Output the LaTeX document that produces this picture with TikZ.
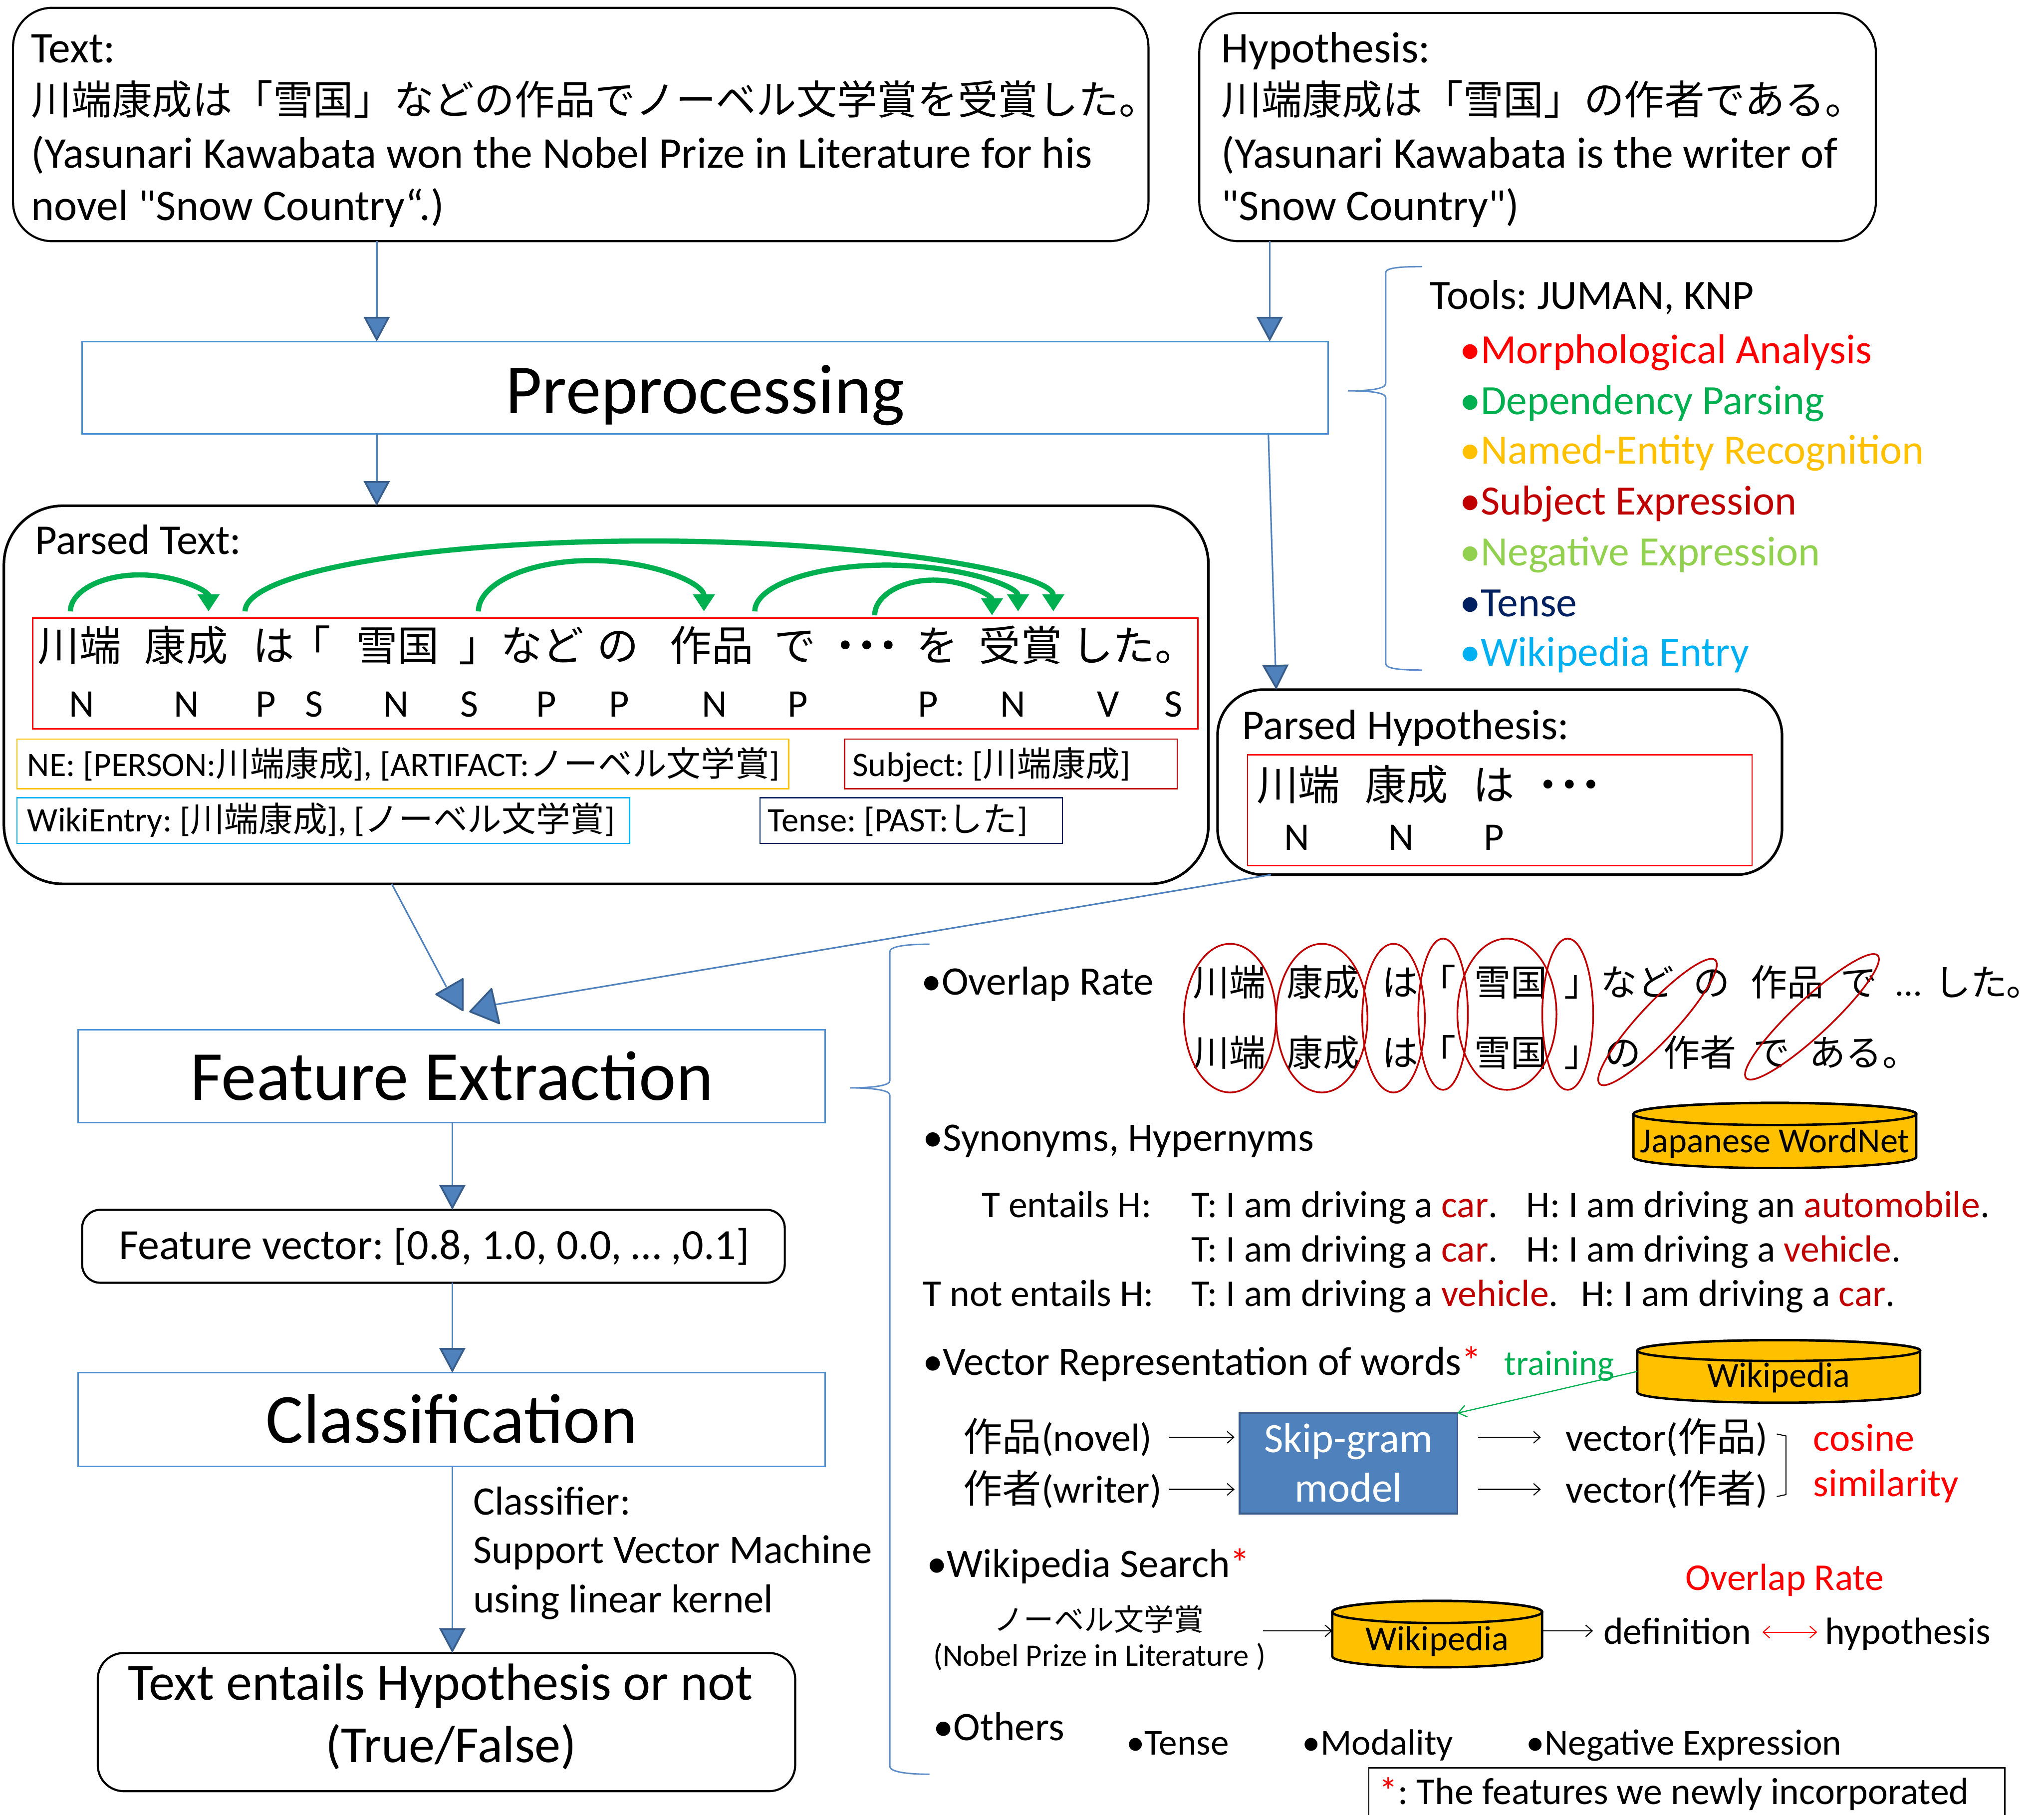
\documentclass[tikz,border=0pt]{standalone}
\usepackage{fontspec}
\setmainfont{Carlito}[Ligatures=TeXOff]
\newfontfamily\jpf{Noto Sans CJK JP}
\newcommand\JP[1]{{\jpf #1}}
\newcommand\fs[1]{\fontsize{#1}{#1}\selectfont}
\newcommand\tdots{\JP{・\kern-15.5pt・\kern-15.5pt・}}
\frenchspacing
\usetikzlibrary{arrows.meta,calc}
\definecolor{arrowblue}{HTML}{4F81BD}
\definecolor{tipblue}{HTML}{385D8A}
\definecolor{boxblue}{HTML}{4A90D9}
\definecolor{braceblue}{HTML}{5B8CC8}
\definecolor{cDred}{HTML}{C00000}
\definecolor{cRed}{HTML}{FF0000}
\definecolor{cGreen}{HTML}{00B050}
\definecolor{cOrange}{HTML}{FFC000}
\definecolor{cLgreen}{HTML}{92D050}
\definecolor{cNavy}{HTML}{002060}
\definecolor{cSky}{HTML}{00B0F0}
\definecolor{cylfill}{HTML}{FFC000}
\tikzset{
  txt/.style={anchor=base west},
  ctxt/.style={anchor=base},
  rbox/.style={draw=black, line width=1.6pt, rounded corners=#1},
  bbox/.style={draw=boxblue, line width=1.2pt},
  thinbox/.style={draw=#1, line width=1pt},
  barrow/.style={draw=arrowblue, line width=1.2pt,
    -{Triangle[length=19pt,width=20pt,fill=arrowblue,color=tipblue,line width=1.4pt]}},
  tipshape/.style={fill=arrowblue, draw=tipblue, line width=1.4pt, line join=round},
  garc/.style={draw=cGreen, line width=4pt, -{Triangle[length=13pt,width=16pt]}},
  oval/.style={draw=cDred, line width=1.3pt},
  sarrow/.style={draw=black, line width=0.8pt, -{Straight Barb[length=5pt,width=9pt]}},
  bracestyle/.style={draw=braceblue, line width=1.1pt},
  cylstyle/.style={fill=cylfill, draw=black, line width=1.8pt},
}
\newcommand\cyl[5]{%
  \filldraw[cylstyle] (#1,#2+#5) -- (#1,#4-#5)
    arc[start angle=180,end angle=0,x radius={(#3-#1)/2},y radius=#5]
    -- (#3,#2+#5)
    arc[start angle=0,end angle=-180,x radius={(#3-#1)/2},y radius=#5] -- cycle;
  \draw[cylstyle, fill=none] ({(#1+#3)/2},#2+#5) ellipse [x radius={(#3-#1)/2}, y radius=#5];
}
\begin{document}
\begin{tikzpicture}[x=1pt,y=-1pt, every node/.style={inner sep=0pt, outer sep=0pt}]
\useasboundingbox (0,0) rectangle (1568,1392);
\fill[white] (0,0) rectangle (1568,1392);

% helper x positions
\coordinate (c289) at (289,0);
\coordinate (c974) at (974,0);
\coordinate (c973) at (973,0);
\coordinate (c979) at (979,0);
\coordinate (c300) at (300.5,0);
\coordinate (c975) at (975,0);
\coordinate (c347) at (347,0);

% ---------- top boxes
\node[rbox=30pt, minimum width=871pt, minimum height=179pt] (textbox) at (445.5,95.5) {};
\node[txt] (tl1) at (24,48) {\fs{33.6}Text:};
\node[txt] (tl2) at (24,88) {\fs{30.9}\JP{川端康成は「雪国」などの作品でノーベル文学賞を受賞した。}};
\node[txt] (tl3) at (24,129) {\fs{33.6}(Yasunari Kawabata won the Nobel Prize in Literature for his};
\node[txt] (tl4) at (24,169) {\fs{33.6}novel "Snow Country“.)};

\node[rbox=30pt, minimum width=519pt, minimum height=175pt] (hypbox) at (1179.5,97.5) {};
\node[txt] (hl1) at (937,48) {\fs{33.6}Hypothesis:};
\node[txt] (hl2) at (937,88) {\fs{30.9}\JP{川端康成は「雪国」の作者である。}};
\node[txt] (hl3) at (937,129) {\fs{33.6}(Yasunari Kawabata is the writer of};
\node[txt] (hl4) at (937,169) {\fs{33.6}"Snow Country")};

% ---------- preprocessing
\node[bbox, minimum width=956pt, minimum height=71pt] (prep) at (541,297.5) {};
\node[ctxt] (preplbl) at (541,317) {\fs{54}Preprocessing};

\draw[barrow] (textbox.south -| c289) -- (prep.north -| c289);
\draw[barrow] (hypbox.south -| c974) -- (prep.north -| c974);

% tools brace and list
\draw[bracestyle] (1091,204.5) .. controls (1074,204.5) and (1063,205.5) .. (1063,209)
  -- (1063,294) .. controls (1063,298.5) and (1050,299.8) .. (1034,299.8)
  .. controls (1050,299.8) and (1063,301) .. (1063,305)
  -- (1063,509) .. controls (1063,513) and (1074,514) .. (1091,514);
\node[txt] (tools) at (1097,237) {\fs{32}Tools: JUMAN, KNP};
\node[txt, text=cRed] (t1) at (1120,279) {\fs{32}•Morphological Analysis};
\node[txt, text=cGreen] (t2) at (1120,318) {\fs{32}•Dependency Parsing};
\node[txt, text=cOrange] (t3) at (1120,356) {\fs{32}•Named-Entity Recognition};
\node[txt, text=cDred] (t4) at (1120,395) {\fs{32}•Subject Expression};
\node[txt, text=cLgreen] (t5) at (1120,434) {\fs{32}•Negative Expression};
\node[txt, text=cNavy] (t6) at (1120,473) {\fs{32}•Tense};
\node[txt, text=cSky] (t7) at (1120,511) {\fs{32}•Wikipedia Entry};

% ---------- parsed text
\node[rbox=45pt, line width=2pt, minimum width=924pt, minimum height=290pt] (ptext) at (465,533) {};
\draw[barrow] (prep.south -| c289) -- (ptext.north -| c289);
\node[txt] (ptlbl) at (27,425) {\fs{32.5}Parsed Text:};
\node[thinbox=cRed, minimum width=894pt, minimum height=85pt] (ptred) at (472,516.5) {};

\foreach \x/\w/\n in {61/川端/p1, 143/康成/p2, 210/は/p3, 238/「/p4, 305/雪国/p5, 368/」/p6, 416/など/p7, 474/の/p8, 546/作品/p9, 610/で/p10, 719/を/p12, 783/受賞/p13}
  \node[ctxt] (\n) at (\x,507) {\fs{32}\JP{\w}};
\node[ctxt] (p11) at (665,507) {\fs{32}\tdots};
\node[txt] (p14) at (822,507) {\fs{32}\JP{した。}};

\foreach \x/\w/\n in {62.6/N/g1, 143/N/g2, 204/P/g3, 241/S/g4, 304/N/g5, 360/S/g6, 419/P/g7, 475/P/g8, 548/N/g9, 612/P/g10, 712/P/g11, 777/N/g12, 850/V/g13, 900/S/g14}
  \node[ctxt] (\n) at (\x,550) {\fs{30}\w};

% dependency arcs
\coordinate (a1s) at (54,469);  \coordinate (a1e) at (160,469);
\coordinate (a2s) at (188,469); \coordinate (a2e) at (808,469);
\coordinate (a3s) at (367,469); \coordinate (a3e) at (540,469);
\coordinate (a4s) at (579,469); \coordinate (a4e) at (781,469);
\coordinate (a5s) at (671,472); \coordinate (a5e) at (761,472);
\draw[garc] (a1s) arc[start angle=180,end angle=360,x radius=53,y radius=28];
\draw[garc] (a2s) arc[start angle=180,end angle=360,x radius=310,y radius=54];
\draw[garc] (a3s) arc[start angle=180,end angle=360,x radius=86.5,y radius=39];
\draw[garc] (a4s) arc[start angle=180,end angle=360,x radius=101,y radius=35.5];
\draw[garc] (a5s) arc[start angle=180,end angle=360,x radius=45,y radius=27];

\node[thinbox=cOrange, minimum width=592pt, minimum height=38pt] (nebox) at (309,586) {};
\node[txt] (ne) at (21,595.5) {\fs{26.3}NE: [PERSON:\JP{川端康成}], [ARTIFACT:\JP{ノーベル文学賞}]};
\node[thinbox=cDred, minimum width=255pt, minimum height=38pt] (subjbox) at (775.5,586) {};
\node[txt] (subj) at (654,595.5) {\fs{26.3}Subject: [\JP{川端康成}]};
\node[thinbox=cSky, minimum width=470pt, minimum height=35pt] (wikibox) at (248,629.5) {};
\node[txt] (wiki) at (21,638) {\fs{26.3}WikiEntry: [\JP{川端康成}], [\JP{ノーベル文学賞}]};
\node[thinbox=cNavy, minimum width=232pt, minimum height=35pt] (tensebox) at (699,629.5) {};
\node[txt] (tense) at (589,638) {\fs{26.3}Tense: [PAST:\JP{した}]};

% ---------- parsed hypothesis
\node[rbox=35pt, line width=2pt, minimum width=433pt, minimum height=142pt] (phyp) at (1150.5,600) {};
\draw[barrow] (prep.south -| c973) -- (phyp.north -| c979);
\node[txt] (phlbl) at (953,567) {\fs{32.5}Parsed Hypothesis:};
\node[thinbox=cRed, minimum width=387pt, minimum height=85pt] (phred) at (1150.5,621.5) {};
\foreach \x/\w/\n in {996/川端/h1, 1079/康成/h2, 1146/は/h3}
  \node[ctxt] (\n) at (\x,614) {\fs{32}\JP{\w}};
\node[ctxt] (h4) at (1204,614) {\fs{32}\tdots};
\foreach \x/\w/\n in {995/N/hg1, 1075/N/hg2, 1146/P/hg3}
  \node[ctxt] (\n) at (\x,652) {\fs{30}\w};

% ---------- left column
\node[bbox, minimum width=573pt, minimum height=71pt] (fe) at (346.5,825.5) {};
\node[ctxt] (felbl) at (346.5,844) {\fs{54}Feature Extraction};

\coordinate (tipA) at (342.4,757);
\coordinate (tipB) at (380,770.6);
\draw[draw=arrowblue, line width=1.2pt] (ptext.south -| c300) -- (tipA);
\draw[draw=arrowblue, line width=1.2pt] (phyp.south -| c975) -- (tipB);
\filldraw[tipshape] (355,751) -- (334.6,762.7) -- (355,775) -- cycle;
\filldraw[tipshape] (377,758.6) -- (360.6,776) -- (383,785) -- cycle;

\node[rbox=14pt, minimum width=539pt, minimum height=56pt] (fv) at (332.5,956) {};
\node[ctxt] (fvlbl) at (333,966) {\fs{33}Feature vector: [0.8, 1.0, 0.0, … ,0.1]};
\draw[barrow] (fe.south -| c347) -- (fv.north -| c347);

\node[bbox, minimum width=573pt, minimum height=72pt] (cls) at (346.5,1089) {};
\node[ctxt] (clslbl) at (346.5,1107) {\fs{54}Classification};
\draw[barrow] (fv.south -| c347) -- (cls.north -| c347);

\node[txt] (cf1) at (363,1162) {\fs{31}Classifier:};
\node[txt] (cf2) at (363,1199) {\fs{31}Support Vector Machine};
\node[txt] (cf3) at (363,1237) {\fs{31}using linear kernel};

\node[rbox=20pt, minimum width=535pt, minimum height=106pt] (final) at (342.5,1321) {};
\node[ctxt] (fin1) at (338,1304) {\fs{40}Text entails Hypothesis or not};
\node[ctxt] (fin2) at (346,1352) {\fs{40}(True/False)};
\draw[barrow] (cls.south -| c347) -- (final.north -| c347);

% ---------- right panel brace
\draw[bracestyle] (713,724.3) .. controls (695,724.3) and (682.6,726) .. (682.6,730)
  -- (682.6,829) .. controls (682.6,833) and (668,834.5) .. (652,834.5)
  .. controls (668,834.5) and (682.6,836) .. (682.6,840)
  -- (682.6,1355) .. controls (682.6,1359) and (695,1361) .. (713,1361);

% Overlap rate
\node[txt] (ov) at (707,763) {\fs{31}•Overlap Rate};
\foreach \x/\w/\n in {943/川端/o1, 1015/康成/o2, 1074/は/o3, 1103/「/o4, 1159/雪国/o5, 1214/」/o6, 1256/など/o7, 1313/の/o8, 1371/作品/o9, 1426/で/o10, 1512/した/o12}
  \node[ctxt] (\n) at (\x,764) {\fs{28}\JP{\w}};
\node[ctxt] (o11) at (1464,764) {\fs{28}…};
\node[txt] (o13) at (1539,764) {\fs{28}\JP{。}};
\foreach \x/\w/\n in {943/川端/q1, 1015/康成/q2, 1074/は/q3, 1103/「/q4, 1159/雪国/q5, 1214/」/q6, 1245/の/q7, 1304/作者/q8, 1359/で/q9}
  \node[ctxt] (\n) at (\x,818) {\fs{28}\JP{\w}};
\node[txt] (q10) at (1388,818) {\fs{28}\JP{ある。}};

\draw[oval] (943.6,781) ellipse [x radius=35.3, y radius=57];
\draw[oval] (1014,781) ellipse [x radius=35, y radius=57];
\draw[oval] (1069,781) ellipse [x radius=24, y radius=57];
\draw[oval] (1107,778) ellipse [x radius=19, y radius=58];
\draw[oval] (1156,778) ellipse [x radius=38, y radius=58];
\draw[oval] (1202.6,778) ellipse [x radius=19.5, y radius=58];
\draw[oval, rotate around={47:(1271.5,784)}] (1271.5,784) ellipse [x radius=65, y radius=14];
\draw[oval, rotate around={43:(1390,780)}] (1390,780) ellipse [x radius=69, y radius=14];

% Synonyms
\node[txt] (syn) at (708,883) {\fs{31}•Synonyms, Hypernyms};
\cyl{1253}{846}{1470}{896}{8.5}
\node[minimum width=217pt, minimum height=50pt] (wordnet) at (1361.5,871) {};
\node[ctxt] (wnlbl) at (1361.5,884) {\fs{27}Japanese WordNet};

\node[txt] (te) at (753,934) {\fs{29}T entails H:};
\node[txt] (ex1t) at (914,934) {\fs{29}T: I am driving a \textcolor{cDred}{car}.};
\node[txt] (ex1h) at (1171,934) {\fs{29}H: I am driving an \textcolor{cDred}{automobile}.};
\node[txt] (ex2t) at (914,968) {\fs{29}T: I am driving a \textcolor{cDred}{car}.};
\node[txt] (ex2h) at (1171,968) {\fs{29}H: I am driving a \textcolor{cDred}{vehicle}.};
\node[txt] (tne) at (708,1002) {\fs{29}T not entails H:};
\node[txt] (ex3t) at (914,1002) {\fs{29}T: I am driving a \textcolor{cDred}{vehicle}.};
\node[txt] (ex3h) at (1213,1002) {\fs{29}H: I am driving a \textcolor{cDred}{car}.};

% Vector representation
\node[txt] (vec) at (708,1055) {\fs{31}•Vector Representation of words\textcolor{cRed}{*}};
\cyl{1256}{1028}{1473}{1076}{8}
\node[minimum width=217pt, minimum height=48pt] (wiki1) at (1364.5,1052) {};
\node[ctxt] (wiki1lbl) at (1364.5,1064) {\fs{27}Wikipedia};
\node[fill=arrowblue, draw=tipblue, line width=1.5pt, minimum width=167pt, minimum height=77pt] (skip) at (1034.5,1122.5) {};
\node[ctxt, text=white] (sk1) at (1034.5,1114) {\fs{32}Skip-gram};
\node[ctxt, text=white] (sk2) at (1034.5,1152) {\fs{32}model};
\draw[draw=cGreen, line width=0.9pt, -{Straight Barb[length=6pt,width=9pt]}] (wiki1.west) -- (skip.north east);
\node[txt, text=cGreen] (train) at (1154,1055) {\fs{27}training};

\node[txt] (novel) at (739,1113) {\fs{30}\JP{作品}(novel)};
\node[txt] (writer) at (739,1153) {\fs{30}\JP{作者}(writer)};
\node[txt] (v1) at (1201,1113) {\fs{30}vector(\JP{作品})};
\node[txt] (v2) at (1201,1153) {\fs{30}vector(\JP{作者})};
\draw[sarrow] (skip.west |- novel.east) ++(-54,0) -- ++(50,0);
\draw[sarrow] (skip.west |- writer.east) ++(-54,0) -- ++(50,0);
\draw[sarrow] (skip.east |- v1.west) ++(16,0) -- ++(48,0);
\draw[sarrow] (skip.east |- v2.west) ++(16,0) -- ++(48,0);
\draw[black, line width=0.8pt] (1363,1100) -- (1370,1101.5) -- (1370,1146.5) -- (1363,1148);
\node[txt, text=cRed] (cos1) at (1391,1113) {\fs{30}cosine};
\node[txt, text=cRed] (cos2) at (1391,1148) {\fs{30}similarity};

% Wikipedia search
\node[txt] (ws) at (711,1210) {\fs{31}•Wikipedia Search\textcolor{cRed}{*}};
\node[ctxt] (nobeljp) at (843,1251) {\fs{23}\JP{ノーベル文学賞}};
\node[txt] (nobelen) at (716,1278) {\fs{24}(Nobel Prize in Literature )};
\cyl{1022}{1228}{1183}{1279}{8.5}
\node[minimum width=161pt, minimum height=51pt] (wiki2) at (1102.5,1253.5) {};
\node[ctxt] (wiki2lbl) at (1102.5,1266) {\fs{27}Wikipedia};
\node[txt] (defn) at (1230,1261) {\fs{29}definition};
\node[txt] (hypo) at (1400,1261) {\fs{29}hypothesis};
\node[ctxt, text=cRed] (ovr) at (1369,1220) {\fs{29}Overlap Rate};
\draw[sarrow] (969,1251) -- (wiki2.west |- 0,1251);
\draw[sarrow] (wiki2.east |- 0,1251) -- (1222,1251);
\draw[draw=cRed, line width=0.8pt, {Straight Barb[length=5pt,width=9pt]}-{Straight Barb[length=5pt,width=9pt]}] (1352,1252) -- (1394,1252);

% Others
\node[txt] (oth) at (716,1335) {\fs{31}•Others};
\node[txt] (o_t) at (864,1346) {\fs{28}•Tense};
\node[txt] (o_m) at (999,1346) {\fs{28}•Modality};
\node[txt] (o_n) at (1171,1346) {\fs{28}•Negative Expression};
\node[draw=black, line width=1pt, minimum width=488pt, minimum height=44pt] (footbox) at (1294,1378) {};
\node[txt] (foot) at (1058,1384) {\fs{29}\textcolor{cRed}{*}: The features we newly incorporated};
\end{tikzpicture}
\end{document}
